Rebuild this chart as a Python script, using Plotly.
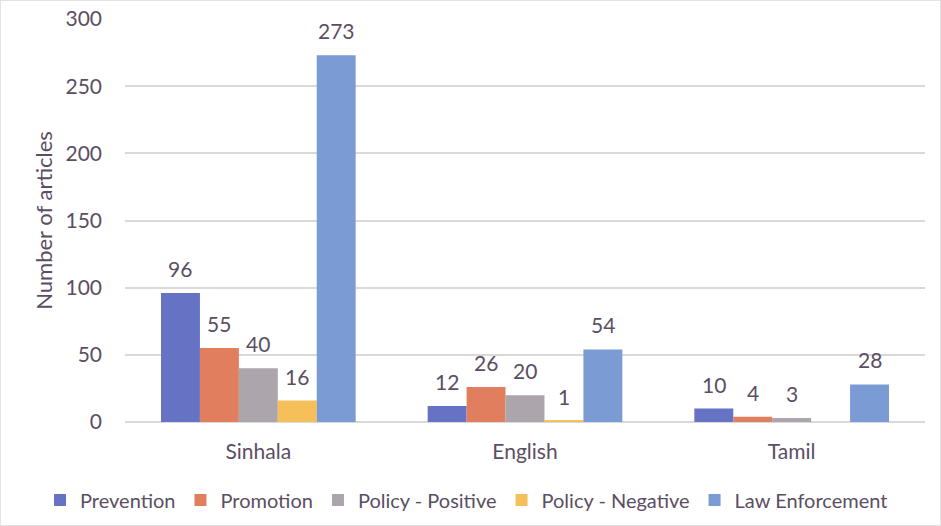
import plotly.graph_objects as go

categories = ["Sinhala", "English", "Tamil"]
series_names = ["Prevention", "Promotion", "Policy - Positive", "Policy - Negative", "Law Enforcement"]
prevention = [96, 12, 10]
promotion = [55, 26, 4]
policy_positive = [40, 20, 3]
policy_negative = [16, 1, 0]
law_enforcement = [273, 54, 28]
label_shown = [
    [True, True, True],
    [True, True, True],
    [True, True, True],
    [True, True, False],
    [True, True, True],
]
y_ticks = [0, 50, 100, 150, 200, 250, 300]

colors = ["#6672C3", "#E07E5E", "#ACA5AC", "#F5BF5A", "#7A9BD4"]
text_color = "#5B4E63"
font_family = "Lato, 'Open Sans', sans-serif"

all_series = [prevention, promotion, policy_positive, policy_negative, law_enforcement]

fig = go.Figure()
for name, vals, col in zip(series_names, all_series, colors):
    fig.add_trace(go.Bar(x=categories, y=vals, name=name, marker=dict(color=col, line=dict(width=0))))

# plot geometry for label offsets
W, H = 941, 526
ml, mr, mt, mb = 125, 16, 19, 104
plot_w = W - ml - mr
plot_h = H - mt - mb
bargap = 0.27
cat_w = plot_w / len(categories)
bw = cat_w * (1 - bargap) / len(series_names)

annotations = []
for i, vals in enumerate(all_series):
    for j, v in enumerate(vals):
        if not label_shown[i][j]:
            continue
        annotations.append(dict(
            x=categories[j], y=v, xref="x", yref="y", text=str(v),
            showarrow=False, yanchor="bottom", xanchor="center",
            xshift=(i - 2) * bw, yshift=10,
            font=dict(size=21, color=text_color, family=font_family),
        ))

fig.update_layout(
    width=W, height=H,
    margin=dict(l=ml, r=mr, t=mt, b=mb, autoexpand=False),
    paper_bgcolor="white", plot_bgcolor="white",
    barmode="group", bargap=bargap, bargroupgap=0,
    font=dict(family=font_family, color=text_color, size=20),
    annotations=annotations,
    legend=dict(
        orientation="h", xref="paper", x=(40 - ml) / plot_w, xanchor="left",
        yref="paper", y=-0.145, yanchor="top",
        font=dict(size=20, color=text_color), itemwidth=30, traceorder="normal",
    ),
    xaxis=dict(showgrid=False, showline=False, ticks="", tickfont=dict(size=21),
               ticklabelstandoff=15, automargin=False),
    yaxis=dict(range=[0, 300], tickvals=y_ticks, showgrid=True, gridcolor="#D9D9D9",
               gridwidth=2, zeroline=True, zerolinecolor="#D9D9D9", zerolinewidth=2,
               showline=False, ticks="", tickfont=dict(size=21), ticklabelstandoff=22,
               automargin=False,
               title=dict(text="Number of articles", font=dict(size=22, color=text_color), standoff=6)),
    shapes=[dict(type="rect", xref="paper", yref="paper", x0=-ml / plot_w, x1=1 + mr / plot_w,
                 y0=-mb / plot_h, y1=1 + mt / plot_h,
                 line=dict(color="#E3E3E3", width=2), layer="below")],
)

fig.write_html("out.html", config={"displayModeBar": False},
               post_script="document.body.style.margin='0';")
